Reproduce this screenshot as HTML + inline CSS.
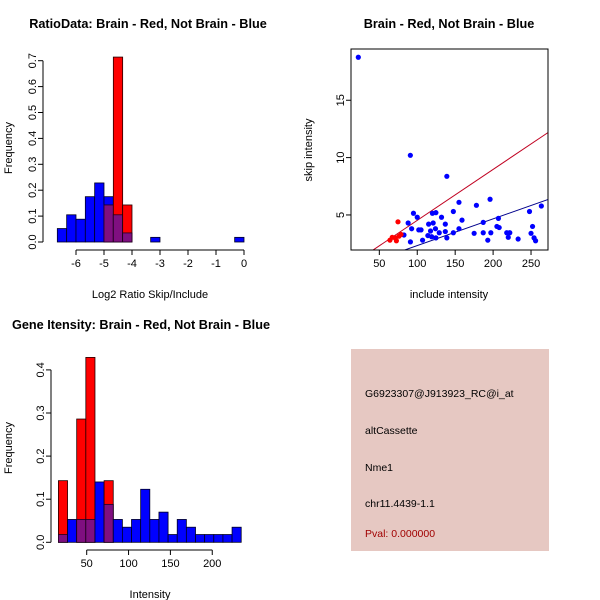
<!DOCTYPE html>
<html><head><meta charset="utf-8"><style>
body{margin:0;background:#fff}
svg{display:block;font-family:"Liberation Sans",sans-serif}
</style></head><body>
<svg id="s" width="600" height="600" xmlns="http://www.w3.org/2000/svg">
<rect width="600" height="600" fill="#fff"/>
<g id="p1"></g>
<g id="p2"></g>
<g id="p3"></g>
<g>
<rect x="351" y="349" width="198" height="202" fill="#E6C8C2"/>
<g font-size="10.5" fill="#000">
<text x="365" y="397">G6923307@J913923_RC@i_at</text>
<text x="365" y="434">altCassette</text>
<text x="365" y="471">Nme1</text>
<text x="365" y="507">chr11.4439-1.1</text>
<text x="365" y="537" fill="#A00000">Pval: 0.000000</text>
</g></g>
</svg>
<script>
// Panel 1 data
const h1Start=-6.667, h1Width=1/3;
const h1Blue=[0.052,0.105,0.088,0.175,0.228,0.175,0.105,0.035,0,0,0.018,0,0,0,0,0,0,0,0,0.018];
const h1Red=[0,0,0,0,0,0.143,0.714,0.143,0,0,0,0,0,0,0,0,0,0,0,0];
const h1XTicks=[-6,-5,-4,-3,-2,-1,0];
const h1YTicks=[0,0.1,0.2,0.3,0.4,0.5,0.6,0.7];
// Panel 3 data
const h3Start=16.2, h3Width=10.92;
const h3Blue=[0.018,0.053,0.053,0.053,0.14,0.088,0.053,0.035,0.053,0.123,0.053,0.07,0.018,0.053,0.035,0.018,0.018,0.018,0.018,0.035];
const h3Red=[0.143,0,0.286,0.429,0,0.143,0,0,0,0,0,0,0,0,0,0,0,0,0,0];
const h3XTicks=[50,100,150,200];
const h3YTicks=[0,0.1,0.2,0.3,0.4];
// Panel 2 data
const blueX=[22.3,90.9,139,196,155,178,263.6,248,147.6,95,120,124.6,100,132,207,159,88,115,121,137,187,205,208,252,92.6,102,105,117.5,124,155,129,137,147.6,175,187,197,218,222,250,82.5,114,119,124.6,139,220,254,107,91,193,233,256];
const blueY=[18.75,10.2,8.37,6.37,6.1,5.84,5.78,5.3,5.3,5.15,5.15,5.2,4.8,4.8,4.7,4.55,4.3,4.2,4.3,4.2,4.35,4.0,3.9,4.0,3.8,3.7,3.7,3.6,3.8,3.8,3.45,3.55,3.45,3.4,3.45,3.45,3.45,3.45,3.4,3.25,3.2,3.1,3.0,3.0,3.05,3.0,2.8,2.65,2.8,2.9,2.75];
const redX=[74.6,67,64,71,72.5,76,78.6];
const redY=[4.4,3.05,2.8,3.0,2.75,3.15,3.3];
const redLine=[0.0444,0.09]; // slope, intercept
const blueLine=[0.0233,0];
const scXTicks=[50,100,150,200,250];
const scYTicks=[5,10,15];

const NS="http://www.w3.org/2000/svg";
function mk(par,tag,at,txt){const e=document.createElementNS(NS,tag);for(const k in at)e.setAttribute(k,at[k]);if(txt!==undefined)e.textContent=txt;par.appendChild(e);return e;}

function hist(g,o){
  const sx=v=>o.x0+(v-o.xa)*o.kx, sy=v=>o.y0-v*o.ky;
  const n=o.blue.length;
  for(let i=0;i<n;i++){
    const l=o.start+i*o.w, r=l+o.w, b=o.blue[i], rd=o.red[i];
    if(b>0){const e=mk(g,'rect',{x:sx(l),y:sy(b),width:sx(r)-sx(l),height:sy(0)-sy(b),fill:'#0000FF',stroke:'#000022','stroke-width':0.8});
      
      }
    if(rd>0){const e=mk(g,'rect',{x:sx(l),y:sy(rd),width:sx(r)-sx(l),height:sy(0)-sy(rd),fill:'#FF0000',stroke:'#220000','stroke-width':0.8});
      
      }
    const m=Math.min(b,rd);
    if(m>0){const e=mk(g,'rect',{x:sx(l),y:sy(m),width:sx(r)-sx(l),height:sy(0)-sy(m),fill:'#7F0F80',stroke:'#200020','stroke-width':0.8});
      
      }
  }
  const xt=o.xt, ay=o.axY;
  mk(g,'line',{x1:sx(xt[0]),x2:sx(xt[xt.length-1]),y1:ay,y2:ay,stroke:'#000'});
  xt.forEach(t=>{mk(g,'line',{x1:sx(t),x2:sx(t),y1:ay,y2:ay+5,stroke:'#000'});
    const e=mk(g,'text',{x:sx(t),y:ay+17,'text-anchor':'middle','font-size':11},String(t));
    
    });
  const yt=o.yt, ax=o.axX;
  mk(g,'line',{x1:ax,x2:ax,y1:sy(yt[0]),y2:sy(yt[yt.length-1]),stroke:'#000'});
  yt.forEach(t=>{mk(g,'line',{x1:ax,x2:ax-5,y1:sy(t),y2:sy(t),stroke:'#000'});
    const e=mk(g,'text',{x:ax-7,y:sy(t),'text-anchor':'middle','font-size':11,transform:`rotate(-90 ${ax-7} ${sy(t)})`},t.toFixed(1));
    
    });
}

const p1=document.getElementById('p1');
hist(p1,{x0:244,xa:0,kx:28,y0:242,ky:259,start:h1Start,w:h1Width,blue:h1Blue,red:h1Red,xt:h1XTicks,yt:h1YTicks,axY:250,axX:43});
let t=mk(p1,'text',{x:148,y:28,'text-anchor':'middle','font-size':12.7,'font-weight':'bold'},'RatioData: Brain - Red, Not Brain - Blue');

t=mk(p1,'text',{x:150,y:298,'text-anchor':'middle','font-size':11},'Log2 Ratio Skip/Include');

t=mk(p1,'text',{x:12,y:148,'text-anchor':'middle','font-size':11,transform:'rotate(-90 12 148)'},'Frequency');


const p3=document.getElementById('p3');
hist(p3,{x0:86.7,xa:50,kx:0.837,y0:542.3,ky:431,start:h3Start,w:h3Width,blue:h3Blue,red:h3Red,xt:h3XTicks,yt:h3YTicks,axY:550,axX:51});
t=mk(p3,'text',{x:141,y:329,'text-anchor':'middle','font-size':12.7,'font-weight':'bold'},'Gene Itensity: Brain - Red, Not Brain - Blue');

t=mk(p3,'text',{x:150,y:598,'text-anchor':'middle','font-size':11},'Intensity');

t=mk(p3,'text',{x:12,y:448,'text-anchor':'middle','font-size':11,transform:'rotate(-90 12 448)'},'Frequency');


const p2=document.getElementById('p2');
const L=351,R=548,T=49,B=250;
const X=v=>341.4+v*0.7585, Y=v=>272.3-v*11.47;
mk(p2,'defs',{}).innerHTML='<clipPath id="cl"><rect x="351" y="49" width="197" height="201"/></clipPath>';
const cg=mk(p2,'g',{'clip-path':'url(#cl)'});
[[redLine,'#C00020','red-fit-line'],[blueLine,'#00008B','blue-fit-line']].forEach(([ln,c,nm])=>{
  const e=mk(cg,'line',{x1:X(0),y1:Y(ln[1]),x2:X(300),y2:Y(ln[0]*300+ln[1]),stroke:c,'stroke-width':1});
  });
blueX.forEach((v,i)=>{const e=mk(cg,'circle',{cx:X(v),cy:Y(blueY[i]),r:2.6,fill:'#0000FF'});
  });
redX.forEach((v,i)=>{const e=mk(cg,'circle',{cx:X(v),cy:Y(redY[i]),r:2.6,fill:'#FF0000'});
  });
mk(p2,'rect',{x:L,y:T,width:R-L,height:B-T,fill:'none',stroke:'#000'});
scXTicks.forEach(v=>{mk(p2,'line',{x1:X(v),x2:X(v),y1:B,y2:B+5,stroke:'#000'});
  const e=mk(p2,'text',{x:X(v),y:B+17,'text-anchor':'middle','font-size':11},String(v));
  });
scYTicks.forEach(v=>{mk(p2,'line',{x1:L,x2:L-5,y1:Y(v),y2:Y(v),stroke:'#000'});
  const e=mk(p2,'text',{x:L-7,y:Y(v),'text-anchor':'middle','font-size':11,transform:`rotate(-90 ${L-7} ${Y(v)})`},String(v));
  });
t=mk(p2,'text',{x:449,y:28,'text-anchor':'middle','font-size':12.7,'font-weight':'bold'},'Brain - Red, Not Brain - Blue');

t=mk(p2,'text',{x:449,y:298,'text-anchor':'middle','font-size':11},'include intensity');

t=mk(p2,'text',{x:312,y:150,'text-anchor':'middle','font-size':11,transform:'rotate(-90 312 150)'},'skip intensity');

</script>
</body></html>
